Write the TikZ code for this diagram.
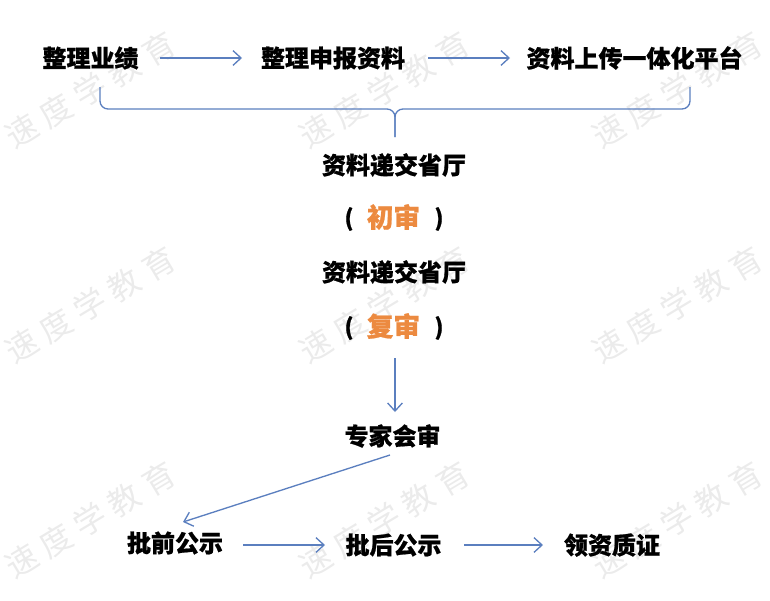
\documentclass[tikz,border=0pt]{standalone}
\usepackage{fontspec}
\setmainfont{Noto Sans CJK SC}[BoldFeatures={FakeBold=0.8}]
\usetikzlibrary{arrows.meta}
\definecolor{arrowblue}{HTML}{5B7FBF}
\definecolor{wordorange}{HTML}{EC8A40}
\definecolor{wmgray}{HTML}{EBEBEB}
\newcommand{\wmtext}{速\hspace{6pt}度\hspace{6pt}学\hspace{6pt}教\hspace{6pt}育}
\tikzset{
  stepbox/.style={font=\bfseries\fontsize{18pt}{20pt}\selectfont, text=black, inner sep=1pt},
  orangeword/.style={font=\bfseries\fontsize{20pt}{22pt}\selectfont, text=wordorange, inner sep=1pt},
  paren/.style={font=\bfseries\fontsize{17pt}{20pt}\selectfont, text=black, inner sep=1pt},
  flow/.style={draw=arrowblue, line width=1pt, -{Straight Barb[length=6pt,width=11pt,line width=1pt]}},
  bracepath/.style={draw=arrowblue, line width=1pt, rounded corners=6pt},
  watermark/.style={font=\fontsize{24pt}{26pt}\selectfont, text=wmgray, rotate=31, inner sep=0pt}
}
\begin{document}
\begin{tikzpicture}[x=0.75pt,y=-0.75pt]
\useasboundingbox (0,0) rectangle (770,600);
% watermarks
\node[watermark] (w11) at (90,90) {\wmtext};
\node[watermark] (w12) at (384,90) {\wmtext};
\node[watermark] (w13) at (677,90) {\wmtext};
\node[watermark] (w21) at (90,305) {\wmtext};
\node[watermark] (w22) at (384,305) {\wmtext};
\node[watermark] (w23) at (677,305) {\wmtext};
\node[watermark] (w31) at (90,520) {\wmtext};
\node[watermark] (w32) at (384,520) {\wmtext};
\node[watermark] (w33) at (677,520) {\wmtext};
% top row
\node[stepbox] (a1) at (90.5,58) {整理业绩};
\node[stepbox] (a2) at (333,58) {整理申报资料};
\node[stepbox] (a3) at (634.5,58) {资料上传一体化平台};
\coordinate (a1e) at (160,58);
\coordinate (a2w) at (242,58);
\coordinate (a2e) at (428,58);
\coordinate (a3w) at (510,58);
\draw[flow] (a1e) -- (a2w);
\draw[flow] (a2e) -- (a3w);
% brace
\coordinate (bl) at (100,87);
\coordinate (br) at (690,87);
\coordinate (bm) at (395,109);
\coordinate (bt) at (395,137);
\path[bracepath] (bl) |- (bm) -- (bt);
\path[bracepath] (br) |- (bm) -- (bt);
% middle
\node[stepbox] (b1) at (394,165) {资料递交省厅};
\node[paren] (p1l) at (349,219) {(};
\node[orangeword] (o1) at (393.5,217) {初审};
\node[paren] (p1r) at (439,219) {)};
\node[stepbox] (b2) at (394,272) {资料递交省厅};
\node[paren] (p2l) at (349,328) {(};
\node[orangeword] (o2) at (393.5,326) {复审};
\node[paren] (p2r) at (439,328) {)};
\coordinate (c1) at (395,358);
\coordinate (c1e) at (395,412);
\node[stepbox] (c) at (392.5,436) {专家会审};
\draw[flow] (c1) -- (c1e);
% bottom row
\node[stepbox] (d1) at (175,543) {批前公示};
\node[stepbox] (d2) at (393.5,545) {批后公示};
\node[stepbox] (d3) at (612,545) {领资质证};
\coordinate (cs) at (390,455);
\coordinate (de) at (183,522);
\draw[flow] (cs) -- (de);
\coordinate (d1e) at (243,545);
\coordinate (d2w) at (325,545);
\coordinate (d2e) at (464,545);
\coordinate (d3w) at (543,545);
\draw[flow] (d1e) -- (d2w);
\draw[flow] (d2e) -- (d3w);
\end{tikzpicture}
\end{document}
